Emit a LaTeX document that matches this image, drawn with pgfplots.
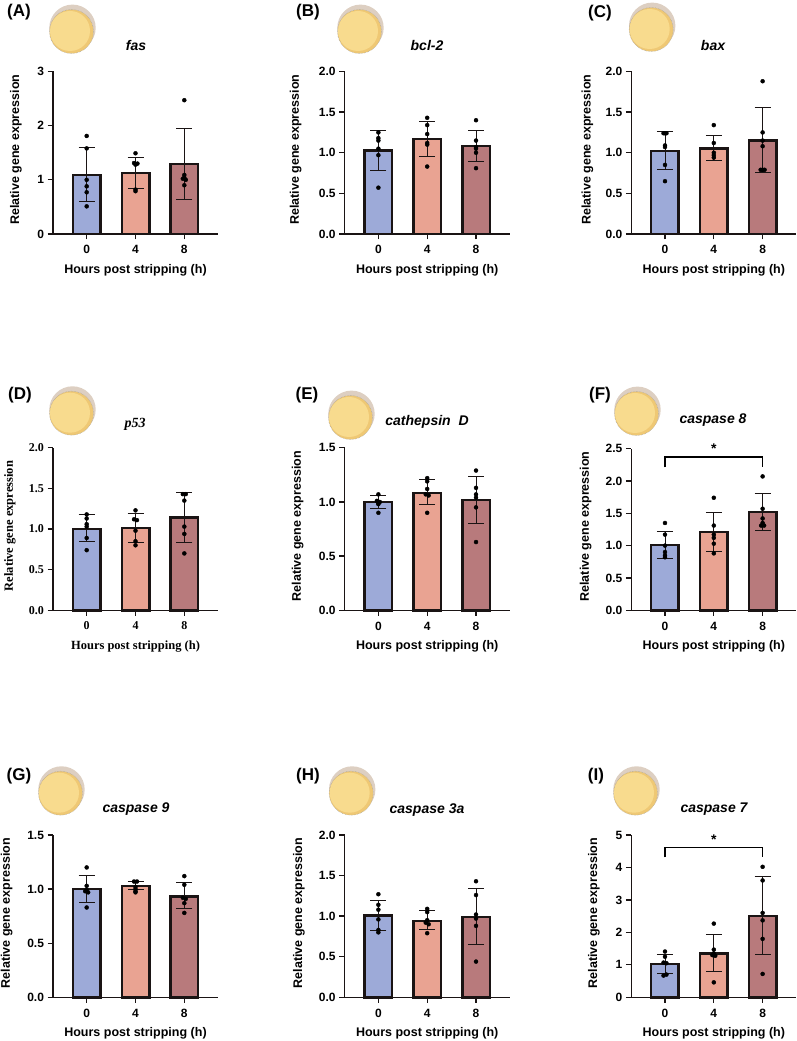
\documentclass[border=0pt]{standalone}
\usepackage{fontspec}
\setmainfont{Liberation Sans}
\newfontfamily\timesf{Liberation Serif}
\usepackage{pgfplots}
\usepackage{pgfplotstable}
\pgfplotsset{compat=1.18}

\definecolor{cblue}{HTML}{9DAAD8}
\definecolor{csalmon}{HTML}{E9A392}
\definecolor{crose}{HTML}{B87A7C}
\definecolor{cline}{HTML}{1A1414}
\definecolor{eggback}{HTML}{DDCFC2}
\definecolor{eggdark}{HTML}{EFC874}
\definecolor{egglight}{HTML}{F8DB8E}

% bars: x, mean, low and high end of the error bar
\pgfplotstableread{
x m lo hi
0 1.09 0.60 1.60
1 1.13 0.85 1.42
2 1.29 0.64 1.95
}\barsA
\pgfplotstableread{
x y
0 1.81
0 1.58
0 1.00
0 0.88
0 0.77
0 0.51
1 1.49
0.97 1.31
1.04 1.30
1 0.82
1 0.79
1 1.28
2 2.47
2 1.09
1.97 1.02
2.03 1.00
2 0.90
2 1.04
}\ptsA
\pgfplotstableread{
x m lo hi
0 1.03 0.78 1.28
1 1.17 0.96 1.38
2 1.08 0.89 1.28
}\barsB
\pgfplotstableread{
x y
0 1.25
0 1.18
0 1.15
0 1.05
0 0.97
0 0.57
1 1.43
1 1.34
1 1.23
1 1.12
1 1.10
1 0.83
2 1.40
2 1.15
2 1.07
2 1.00
2 0.81
2 1.05
}\ptsB
\pgfplotstableread{
x m lo hi
0 1.02 0.79 1.26
1 1.05 0.91 1.21
2 1.15 0.76 1.56
}\barsC
\pgfplotstableread{
x y
-0.03 1.24
0 1.24
0.03 1.24
0 1.09
0 1.07
0 0.85
0 0.65
1 1.34
1 1.12
1 1.00
1 0.97
1 0.94
2 1.88
2 1.25
2 1.15
2 1.08
1.96 0.79
2 0.79
2.04 0.79
}\ptsC
\pgfplotstableread{
x m lo hi
0 1.00 0.85 1.18
1 1.01 0.84 1.19
2 1.14 0.84 1.45
}\barsD
\pgfplotstableread{
x y
0 1.18
0 1.13
0 1.06
0 1.03
0 0.89
0 0.74
1 1.23
0.97 1.12
1.03 1.11
1 0.98
1 0.85
1 0.80
1.97 1.43
2.03 1.43
2 1.35
2 1.03
2 0.94
2 0.70
}\ptsD
\pgfplotstableread{
x m lo hi
0 1.00 0.94 1.06
1 1.085 0.975 1.21
2 1.02 0.80 1.24
}\barsE
\pgfplotstableread{
x y
0 1.07
-0.03 1.01
0.03 1.00
0 0.99
0 0.98
0 0.90
1 1.22
1 1.19
1 1.12
0.97 1.07
1.03 1.06
1 0.90
2 1.29
2 1.13
2 1.07
2 1.04
2 0.95
2 0.63
}\ptsE
\pgfplotstableread{
x m lo hi
0 1.01 0.81 1.22
1 1.21 0.91 1.51
2 1.52 1.24 1.81
}\barsF
\pgfplotstableread{
x y
0 1.35
0 1.17
0 1.00
0 0.90
0 0.85
0 0.82
1 1.74
1 1.31
1 1.17
1 1.12
1 1.03
1 0.88
2 2.07
2 1.57
2 1.42
2 1.35
1.97 1.31
2.03 1.31
}\ptsF
\pgfplotstableread{
x m lo hi
0 1.00 0.88 1.13
1 1.03 1.00 1.07
2 0.93 0.82 1.06
}\barsG
\pgfplotstableread{
x y
0 1.20
0 1.03
0 0.99
-0.03 0.98
0.03 0.97
0 0.83
0.97 1.07
1.03 1.07
1 1.02
1 1.00
1 0.98
1 0.97
2 1.12
2 1.04
1.97 0.92
2.03 0.91
2 0.87
2 0.78
}\ptsG
\pgfplotstableread{
x m lo hi
0 1.01 0.82 1.20
1 0.94 0.84 1.07
2 0.99 0.65 1.34
}\barsH
\pgfplotstableread{
x y
0 1.27
0 1.14
0 1.08
0 0.96
0 0.83
0 0.80
1 1.09
1 1.05
1 0.95
0.97 0.92
1.03 0.90
1 0.79
2 1.43
2 1.26
2 1.02
2 0.97
2 0.88
2 0.44
}\ptsH
\pgfplotstableread{
x m lo hi
0 1.02 0.74 1.33
1 1.35 0.79 1.95
2 2.50 1.33 3.72
}\barsI
\pgfplotstableread{
x y
0 1.41
0 1.25
-0.03 1.07
0.03 1.05
0.03 0.70
-0.03 0.67
1 2.27
1 1.47
1 1.35
0.97 1.30
1.03 1.28
1 0.46
2 4.02
2 3.60
2 2.60
2 2.37
2 1.80
2 0.72
}\ptsI

\newcommand{\lblfont}{\fontsize{12.5}{14}\selectfont\bfseries}
\pgfplotsset{
  panel/.style={
    scale only axis, width=165pt,
    xmin=-0.69, xmax=2.69, ymin=0,
    clip=false,
    axis lines=left,
    axis line style={-, line width=1.3pt, cline},
    tick style={line width=1.3pt, cline},
    major tick length=5.5pt,
    tick align=outside,
    xtick={0,1,2}, xticklabels={0,4,8},
    /pgf/number format/assume math mode=true,
    tick label style={font=\fontsize{12}{14}\selectfont\bfseries},
    xticklabel style={yshift=-2.5pt},
    xlabel={Hours post stripping (h)},
    ylabel={Relative gene expression},
    every axis x label/.style={at={(axis description cs:0.5,0)}, yshift=-36pt, anchor=center, font=\lblfont},
  },
  onedec/.style={yticklabel style={/pgf/number format/fixed, /pgf/number format/fixed zerofill, /pgf/number format/precision=1}},
  serifpanel/.style={
    tick label style={font=\fontsize{12}{14}\selectfont\timesf\bfseries},
    every axis x label/.append style={font=\fontsize{12.5}{14}\selectfont\timesf\bfseries},
    every axis y label/.append style={font=\fontsize{12.5}{14}\selectfont\timesf\bfseries},
  },
}

% #1 options, #2 left px, #3 baseline px, #4 height, #5 ymax, #6 yticks, #7 ylabel distance, #8 bars, #9 points and extras
\newcommand{\panel}[9][]{%
\begin{axis}[panel, at={(#2pt,{(1041-#3)*1pt})}, anchor=south west,
    height=#4pt, ymax=#5, ytick={#6},
    every axis y label/.style={at={(axis description cs:0,0.5)}, xshift=-#7pt, yshift=3pt, rotate=90, anchor=center, font=\lblfont},
    #1]
  \addplot[ybar, bar shift=0pt, bar width=27.5pt, line width=2.5pt, draw=cline, fill=cblue, restrict x to domain=-0.5:0.5] table[x=x,y=m] {#8};
  \addplot[ybar, bar shift=0pt, bar width=27.5pt, line width=2.5pt, draw=cline, fill=csalmon, restrict x to domain=0.5:1.5] table[x=x,y=m] {#8};
  \addplot[ybar, bar shift=0pt, bar width=27.5pt, line width=2.5pt, draw=cline, fill=crose, restrict x to domain=1.5:2.5] table[x=x,y=m] {#8};
  \addplot[draw=none, mark=none, forget plot,
    error bars/.cd, y dir=both, y explicit,
    error bar style={line width=0.8pt, cline},
    error mark options={rotate=90, mark size=8pt, line width=0.8pt, cline}]
    table[x=x, y=m, y error plus expr=\thisrow{hi}-\thisrow{m}, y error minus expr=\thisrow{m}-\thisrow{lo}] {#8};
  #9
\end{axis}}

\newcommand{\pts}[1]{\addplot[only marks, mark=*, mark size=2pt, black] table[x=x,y=y] {#1};}
\newcommand{\sigbar}[3]{%
  \addplot[black, line width=1.1pt, mark=none] coordinates {(0,#2) (0,#1) (2,#1) (2,#2)};
  \node[font=\fontsize{14}{14}\selectfont\bfseries] at (axis cs:1,#3) {*};}

\newcommand{\egg}[2]{%
  \begin{scope}[shift={(#1,{1041-#2})}]
    \fill[eggback] (0.5,1.2) circle (23.2);
    \fill[eggdark] (-0.5,-2.5) circle (22);
    \fill[egglight] (-2,-2) circle (20);
    \draw[gray!70, line width=0.5pt, densely dotted] (-0.5,-2.5) circle (22);
  \end{scope}}
\newcommand{\plab}[3]{\node[font=\fontsize{17}{19}\selectfont\bfseries, inner sep=0pt] at (#1,{1041-#2}) {#3};}
\newcommand{\gene}[3]{\node[font=\fontsize{14}{16}\selectfont\bfseries\itshape, inner sep=0pt] at (#1,{1041-#2}) {#3};}

\begin{document}
\begin{tikzpicture}[x=1pt,y=1pt]
\path[use as bounding box] (0,0) rectangle (796,1041);

\egg{72}{29} \egg{360}{29} \egg{651.7}{27}
\egg{72}{410.7} \egg{351}{415} \egg{637}{411}
\egg{61}{790.7} \egg{351.7}{790.7} \egg{636}{790.7}

\plab{19}{12.5}{(A)} \plab{308}{12.5}{(B)} \plab{600}{13}{(C)}
\plab{20}{395}{(D)} \plab{307}{395}{(E)} \plab{600}{395}{(F)}
\plab{19}{776}{(G)} \plab{308}{776}{(H)} \plab{596}{776}{(I)}

\gene{136}{46}{fas} \gene{427}{46}{bcl-2} \gene{713}{46}{bax}
\node[font=\fontsize{14}{16}\selectfont\timesf\bfseries\itshape, inner sep=0pt] at (135,{1041-424}) {p53};
\gene{427}{422}{cathepsin\ \ D} \gene{713}{420}{caspase 8}
\gene{136}{809}{caspase 9} \gene{427}{810}{caspase 3a} \gene{714}{809}{caspase 7}

\panel{53}{234}{162.5}{3}{0,1,2,3}{37}{\barsA}{\pts{\ptsA}}
\panel[onedec]{344.7}{234}{162.5}{2}{0,0.5,1,1.5,2}{49}{\barsB}{\pts{\ptsB}}
\panel[onedec]{631.3}{234}{162.5}{2}{0,0.5,1,1.5,2}{44}{\barsC}{\pts{\ptsC}}
\panel[onedec,serifpanel]{53}{610.3}{162.5}{2}{0,0.5,1,1.5,2}{43}{\barsD}{\pts{\ptsD}}
\panel[onedec]{344.7}{610.3}{162.5}{1.5}{0,0.5,1,1.5}{47}{\barsE}{\pts{\ptsE}}
\panel[onedec]{631.3}{610.3}{161.7}{2.5}{0,0.5,1,1.5,2,2.5}{45.6}{\barsF}{\pts{\ptsF}\sigbar{2.37}{2.21}{2.50}}
\panel[onedec]{53}{997.3}{162.3}{1.5}{0,0.5,1,1.5}{46.3}{\barsG}{\pts{\ptsG}}
\panel[onedec]{344.7}{997.3}{162.3}{2}{0,0.5,1,1.5,2}{45.7}{\barsH}{\pts{\ptsH}}
\panel{631.3}{997.3}{162.3}{5}{0,1,2,3,4,5}{37.3}{\barsI}{\pts{\ptsI}\sigbar{4.62}{4.31}{4.87}}
\end{tikzpicture}
\end{document}
